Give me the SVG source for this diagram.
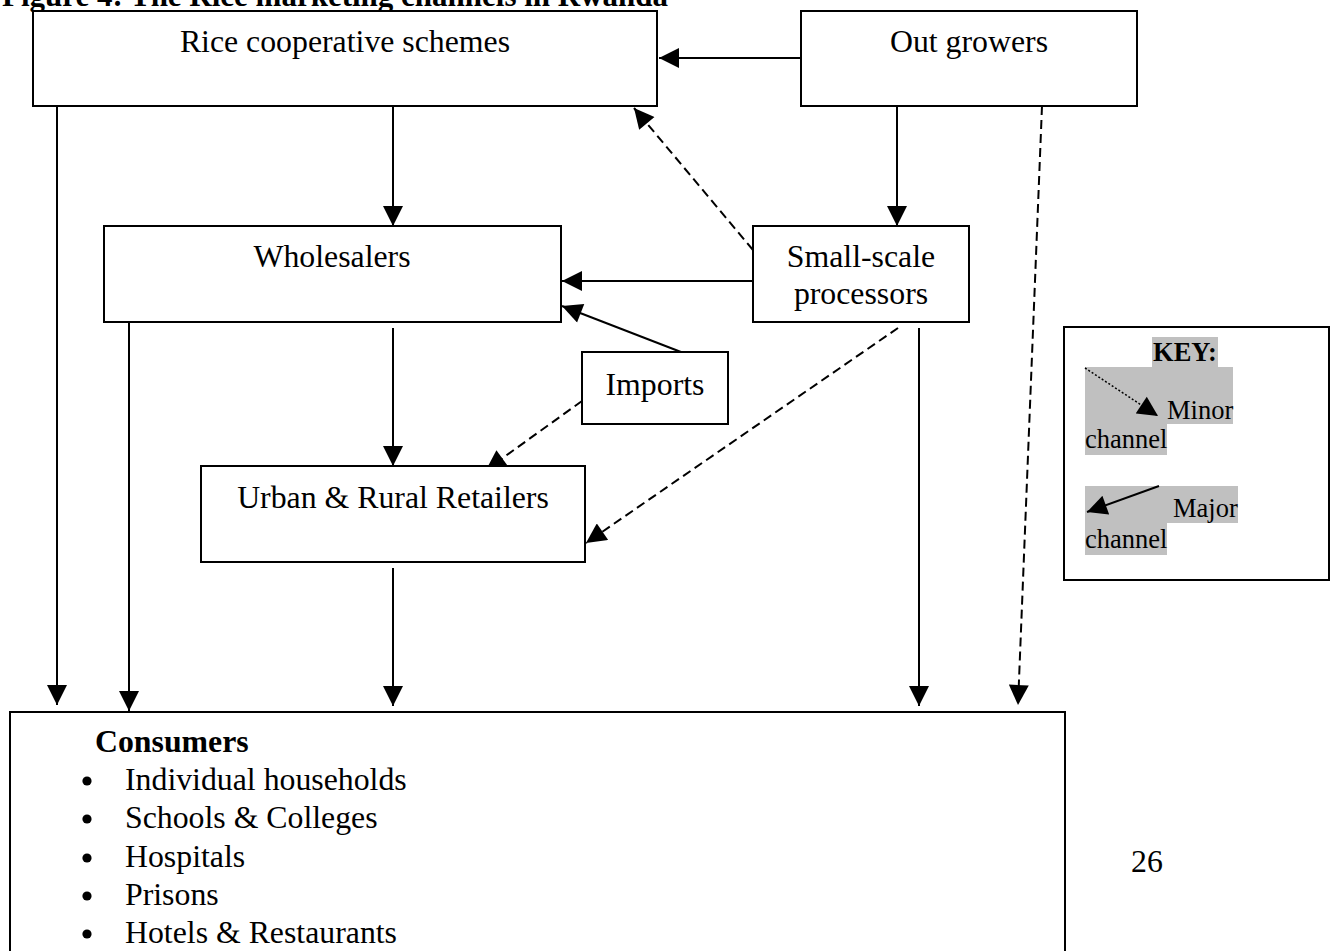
<svg xmlns="http://www.w3.org/2000/svg" width="1334" height="951" viewBox="0 0 1334 951">
<defs>
<style>
.box{fill:#fff;stroke:#000;stroke-width:2}
.t{font-family:"Liberation Serif","Times New Roman",serif;font-size:31.8px;fill:#000}
.c{text-anchor:middle}
.b{font-weight:bold}
.k{font-family:"Liberation Serif","Times New Roman",serif;font-size:26.5px;fill:#000}
.ln{stroke:#000;stroke-width:2;fill:none}
.dash{stroke-dasharray:9 5}
.hl{fill:#c0c0c0}
</style>
<marker id="ah" viewBox="0 0 20 20" refX="20" refY="10" markerUnits="userSpaceOnUse" markerWidth="21" markerHeight="20" orient="auto">
<path d="M0,0 L20,10 L0,20 z" fill="#000"/>
</marker>
</defs>
<rect width="1334" height="951" fill="#fff"/>
<text class="t b" x="2" y="6" textLength="666" lengthAdjust="spacingAndGlyphs">Figure 4: The Rice marketing channels in Rwanda</text>

<g id="connectors">
<line class="ln" x1="801" y1="58" x2="659" y2="58" marker-end="url(#ah)"/>
<line class="ln" x1="57" y1="106" x2="57" y2="705" marker-end="url(#ah)"/>
<line class="ln" x1="393" y1="106" x2="393" y2="226" marker-end="url(#ah)"/>
<line class="ln" x1="897" y1="106" x2="897" y2="226" marker-end="url(#ah)"/>
<line class="ln dash" x1="753" y1="250" x2="634" y2="108" marker-end="url(#ah)"/>
<line class="ln" x1="753" y1="281" x2="562" y2="281" marker-end="url(#ah)"/>
<line class="ln" x1="681" y1="352" x2="562" y2="306" marker-end="url(#ah)"/>
<line class="ln" x1="129" y1="322" x2="129" y2="711" marker-end="url(#ah)"/>
<line class="ln" x1="393" y1="328" x2="393" y2="466" marker-end="url(#ah)"/>
<line class="ln dash" x1="582" y1="401" x2="486" y2="470" marker-end="url(#ah)"/>
<line class="ln dash" x1="898" y1="328" x2="586" y2="543" marker-end="url(#ah)"/>
<line class="ln" x1="919" y1="328" x2="919" y2="706" marker-end="url(#ah)"/>
<line class="ln" x1="393" y1="568" x2="393" y2="706" marker-end="url(#ah)"/>
<line class="ln dash" x1="1042" y1="106" x2="1018" y2="705" marker-end="url(#ah)"/>
</g>

<g id="rice">
<rect class="box" x="33" y="11" width="624" height="95"/>
<text class="t c" x="345" y="52">Rice cooperative schemes</text>
</g>
<g id="outgrowers">
<rect class="box" x="801" y="11" width="336" height="95"/>
<text class="t c" x="969" y="52">Out growers</text>
</g>
<g id="wholesalers">
<rect class="box" x="104" y="226" width="457" height="96"/>
<text class="t c" x="332" y="267">Wholesalers</text>
</g>
<g id="smallscale">
<rect class="box" x="753" y="226" width="216" height="96"/>
<text class="t c" x="861" y="267">Small-scale</text>
<text class="t c" x="861" y="304">processors</text>
</g>
<g id="imports">
<rect class="box" x="582" y="352" width="146" height="72"/>
<text class="t c" x="655" y="395">Imports</text>
</g>
<g id="retailers">
<rect class="box" x="201" y="466" width="384" height="96"/>
<text class="t c" x="393" y="508">Urban &amp; Rural Retailers</text>
</g>
<g id="consumers">
<rect class="box" x="10" y="712" width="1055" height="260"/>
<text class="t b" x="95" y="752">Consumers</text>
<circle cx="87" cy="781" r="4.6"/>
<text class="t" x="125" y="790">Individual households</text>
<circle cx="87" cy="819" r="4.6"/>
<text class="t" x="125" y="828">Schools &amp; Colleges</text>
<circle cx="87" cy="858" r="4.6"/>
<text class="t" x="125" y="867">Hospitals</text>
<circle cx="87" cy="896" r="4.6"/>
<text class="t" x="125" y="905">Prisons</text>
<circle cx="87" cy="934" r="4.6"/>
<text class="t" x="125" y="943">Hotels &amp; Restaurants</text>
</g>
<text class="t" x="1131" y="872">26</text>

<g id="key">
<rect class="box" x="1064" y="327" width="265" height="253"/>
<rect class="hl" x="1152" y="337" width="66" height="31"/>
<rect class="hl" x="1085" y="367" width="148" height="57"/>
<rect class="hl" x="1085" y="423" width="82" height="32"/>
<rect class="hl" x="1085" y="486" width="153" height="37"/>
<rect class="hl" x="1085" y="522" width="82" height="33"/>
<text class="k b" x="1185" y="361" text-anchor="middle">KEY:</text>
<line x1="1085" y1="368" x2="1158" y2="416" stroke="#000" stroke-width="1.5" stroke-dasharray="2 2" marker-end="url(#ah)"/>
<text class="k" x="1167" y="419">Minor</text>
<text class="k" x="1085" y="448">channel</text>
<line class="ln" x1="1159" y1="486" x2="1087" y2="512" marker-end="url(#ah)"/>
<text class="k" x="1173" y="517">Major</text>
<text class="k" x="1085" y="548">channel</text>
</g>
</svg>
